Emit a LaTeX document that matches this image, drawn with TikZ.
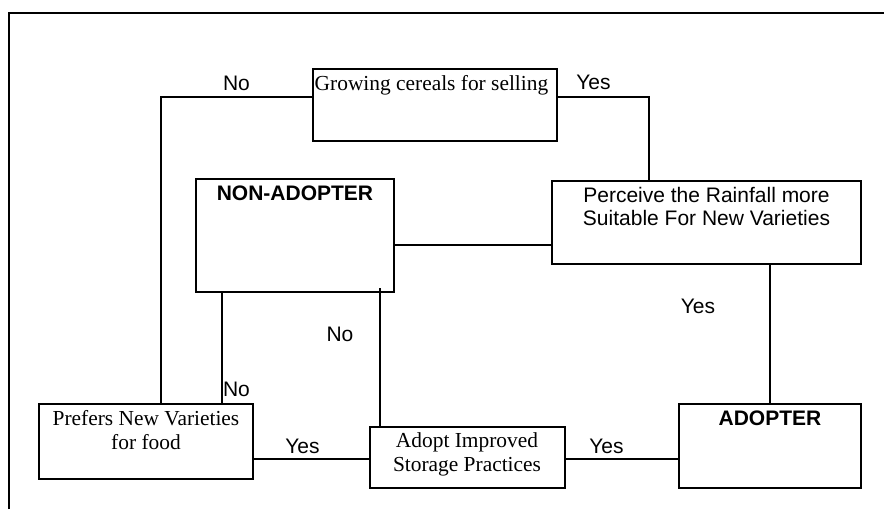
\documentclass[tikz,border=0pt]{standalone}
\usepackage{fontspec}
\setmainfont{Liberation Serif}
\setsansfont{Liberation Sans}
\begin{document}
\begin{tikzpicture}[x=1pt,y=-1pt,line width=1.7pt,
  box/.style={draw,rectangle,inner sep=0pt},
  sf/.style={font=\fontsize{21}{24}\selectfont\sffamily,inner sep=0pt,anchor=base},
  sfb/.style={font=\fontsize{21}{24}\selectfont\sffamily\bfseries,inner sep=0pt,anchor=base},
  rm/.style={font=\fontsize{21.4}{24}\selectfont\rmfamily,inner sep=0pt,anchor=base}]
\useasboundingbox (0,0) rectangle (884,509);
% frame
\coordinate (fa) at (9,509);
\coordinate (fb) at (9,13);
\coordinate (fc) at (884,13);
\draw (fa) -- (fb) -- (fc);
% boxes
\node[box,minimum width=244,minimum height=72] (grow) at (435,105) {};
\node[box,minimum width=309,minimum height=83] (perc) at (706.5,222.5) {};
\node[box,minimum width=198,minimum height=113] (non) at (295,235.5) {};
\node[box,minimum width=214,minimum height=75] (pref) at (146,441.5) {};
\node[box,minimum width=195,minimum height=61] (adopt) at (467.5,457.5) {};
\node[box,minimum width=182,minimum height=84] (adopter) at (770,446) {};
% box texts
\node[rm] (growt) at (431.5,90) {Growing cereals for selling};
\node[sf] (perct1) at (706.5,202) {Perceive the Rainfall more};
\node[sf] (perct2) at (706.5,225) {Suitable For New Varieties};
\node[sfb] (nont) at (295,200.5) {NON-ADOPTER};
\node[rm] (preft1) at (146,425) {Prefers New Varieties};
\node[rm] (preft2) at (146,449) {for food};
\node[rm] (adoptt1) at (467,447) {Adopt Improved};
\node[rm] (adoptt2) at (467,471) {Storage Practices};
\node[sfb] (adoptert) at (770,425) {ADOPTER};
% connectors
\draw (grow.west |- 0,97) -| (pref.north -| 161,0);
\draw (grow.east |- 0,97) -| (perc.north -| 649,0);
\draw (non.east |- 0,245) -- (perc.west |- 0,245);
\draw (non.south -| 222,0) -- (pref.north -| 222,0);
\coordinate (nx) at (380,288);
\draw (nx) -- (adopt.north -| 380,0);
\draw (pref.east |- 0,459) -- (adopt.west |- 0,459);
\draw (adopt.east |- 0,459) -- (adopter.west |- 0,459);
\draw (perc.south -| 770,0) -- (adopter.north);
% labels
\node[sf] (l1) at (236.5,90) {No};
\node[sf] (l2) at (593.5,89.3) {Yes};
\node[sf] (l3) at (340,341.7) {No};
\node[sf] (l4) at (236.5,396.7) {No};
\node[sf] (l5) at (302.5,453) {Yes};
\node[sf] (l6) at (606.5,453) {Yes};
\node[sf] (l7) at (698,313.3) {Yes};
\end{tikzpicture}
\end{document}
